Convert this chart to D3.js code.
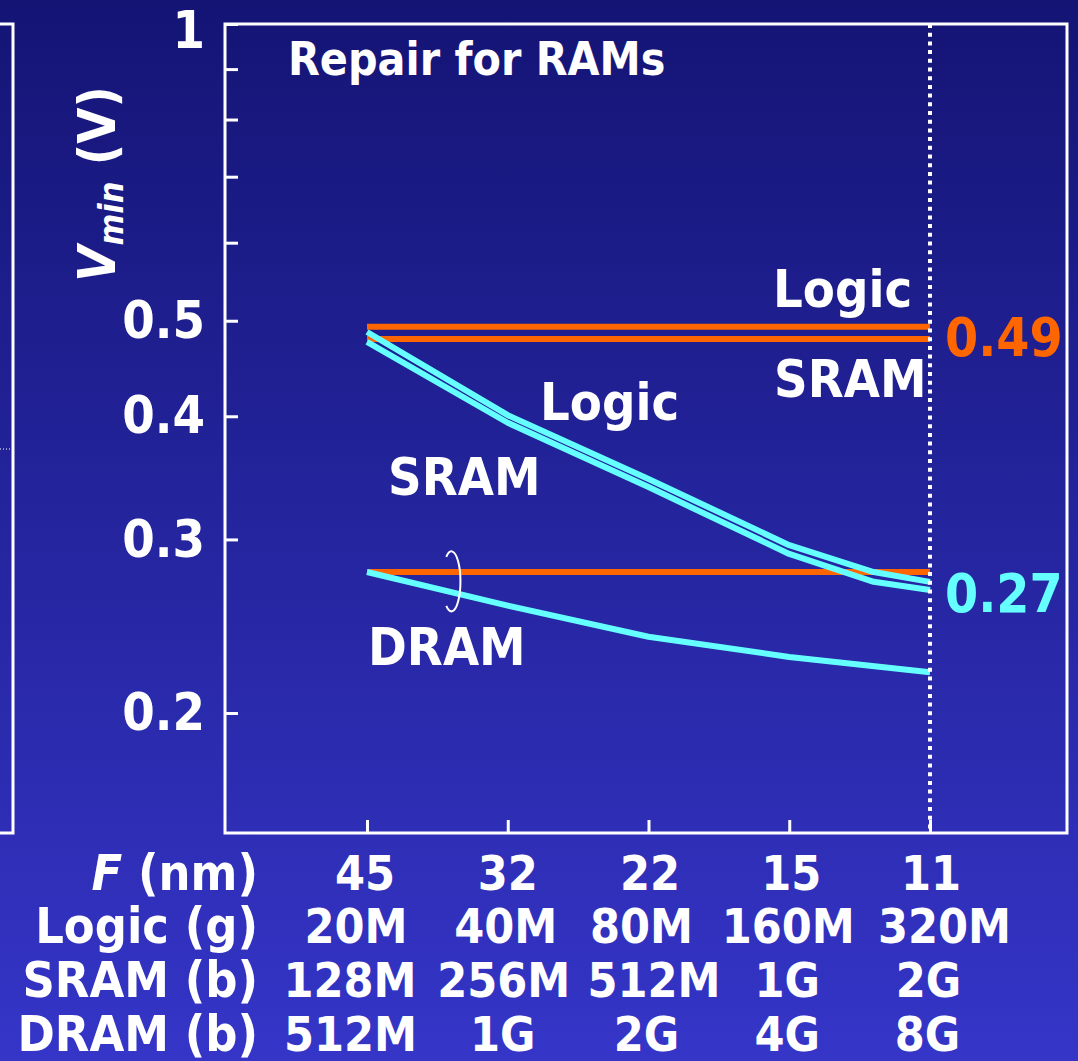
<!DOCTYPE html>
<html>
<head>
<meta charset="utf-8">
<style>
  body { margin: 0; background: #1b1c88; }
  svg text {
    font-family: "DejaVu Sans", Verdana, sans-serif;
    font-weight: bold;
    font-stretch: condensed;
    fill: white;
  }
</style>
</head>
<body>
<svg id="chart"></svg>
<script src="https://d3js.org/d3.v7.min.js"></script>
<script>
var width = 1078, height = 1061;

// table under the chart
var featureNm  = ["45", "32", "22", "15", "11"];
var logicGates = ["20M", "40M", "80M", "160M", "320M"];
var sramBits   = ["128M", "256M", "512M", "1G", "2G"];
var dramBits   = ["512M", "1G", "2G", "4G", "8G"];

// y axis ticks (log)
var majorTicks = [0.2, 0.3, 0.4, 0.5, 1];
var minorTicks = [0.6, 0.7, 0.8, 0.9];

// position along the F axis (0 = 45nm ... 4 = 11nm)
var curveX = [0, 1, 2, 3, 3.6, 4];
var dramX  = [0, 1, 2, 3, 4];

// Vmin, repair for RAMs (cyan)
var logicRepair = [0.487, 0.401, 0.3455, 0.296, 0.278, 0.2717];
var sramRepair  = [0.476, 0.394, 0.339, 0.290, 0.2717, 0.2666];
var dramRepair  = [0.278, 0.257, 0.239, 0.228, 0.220];

// Vmin without repair (orange, flat)
var logicFlat = [0.493, 0.493, 0.493, 0.493, 0.493];
var sramFlat  = [0.479, 0.479, 0.479, 0.479, 0.479];
var dramFlat  = [0.278, 0.278, 0.278, 0.278, 0.278];

var orange = "#ff6600", cyan = "#66ffff";

var x = d3.scaleLinear().domain([0, 4]).range([367, 930]);
var y = d3.scaleLog().domain([0.2, 1]).range([713, 24]);

var frame = {left: 225, top: 24, right: 1067, bottom: 833};

var svg = d3.select("#chart").attr("width", width).attr("height", height);

// background gradient
var grad = svg.append("defs").append("linearGradient")
  .attr("id", "bg").attr("x1", 0).attr("y1", 0).attr("x2", 0).attr("y2", 1);
grad.append("stop").attr("offset", "0%").attr("stop-color", "#141475");
grad.append("stop").attr("offset", "100%").attr("stop-color", "#3535c8");
svg.append("rect").attr("width", width).attr("height", height).attr("fill", "url(#bg)");

// piece of the neighbouring panel on the left
svg.append("path")
  .attr("d", "M0," + frame.top + "H13V" + frame.bottom + "H0")
  .attr("fill", "none").attr("stroke", "white").attr("stroke-width", 3);
svg.append("line")
  .attr("x1", 0).attr("x2", 11).attr("y1", 449).attr("y2", 449)
  .attr("stroke", "white").attr("stroke-width", 1).attr("stroke-dasharray", "1,2");

// frame
svg.append("rect")
  .attr("x", frame.left).attr("y", frame.top)
  .attr("width", frame.right - frame.left).attr("height", frame.bottom - frame.top)
  .attr("fill", "none").attr("stroke", "white").attr("stroke-width", 3);

// y axis
var yAxis = svg.append("g")
  .attr("transform", "translate(" + frame.left + ",0)")
  .call(d3.axisLeft(y)
    .tickValues(majorTicks.concat(minorTicks))
    .tickSizeInner(-13).tickSizeOuter(0).tickPadding(20)
    .tickFormat(function(d) { return majorTicks.indexOf(d) >= 0 ? d3.format("")(d) : ""; }));
yAxis.select(".domain").remove();
yAxis.selectAll("line").attr("stroke", "white").attr("stroke-width", 3);
yAxis.selectAll("text").attr("font-size", 52).attr("fill", "white")
  .attr("font-family", null);
yAxis.selectAll(".tick").filter(function(d) { return d === 1; })
  .select("text").attr("dy", "0.45em");

// x axis ticks
var xAxis = svg.append("g")
  .attr("transform", "translate(0," + frame.bottom + ")")
  .call(d3.axisBottom(x).tickValues([0, 1, 2, 3, 4])
    .tickSizeInner(-13).tickSizeOuter(0).tickFormat(""));
xAxis.select(".domain").remove();
xAxis.selectAll("line").attr("stroke", "white").attr("stroke-width", 3);

// y title
var yTitle = svg.append("text")
  .attr("transform", "translate(115,184) rotate(-90)")
  .attr("text-anchor", "middle")
  .attr("font-size", 52);
yTitle.append("tspan").attr("font-style", "italic").text("V");
yTitle.append("tspan").attr("font-style", "italic").attr("font-size", 34)
  .attr("dy", 8).text("min");
yTitle.append("tspan").attr("dy", -8).text(" (V)");

var line = d3.line()
  .x(function(d) { return x(d[0]); })
  .y(function(d) { return y(d[1]); });

function pairs(xs, vs) { return xs.map(function(v, i) { return [v, vs[i]]; }); }

// flat orange lines
[logicFlat, sramFlat, dramFlat].forEach(function(s) {
  svg.append("path").datum(pairs(dramX, s))
    .attr("d", line).attr("fill", "none")
    .attr("stroke", orange).attr("stroke-width", 6);
});

// cyan repair curves
[[curveX, sramRepair], [curveX, logicRepair], [dramX, dramRepair]].forEach(function(s) {
  svg.append("path").datum(pairs(s[0], s[1]))
    .attr("d", line).attr("fill", "none")
    .attr("stroke", cyan).attr("stroke-width", 6)
    .attr("stroke-linejoin", "round");
});

// DRAM bracket ellipse
var ex = x(0.6), ey = y(0.272), rx = 9, ry = 30;
var a0 = -125 * Math.PI / 180, a1 = 125 * Math.PI / 180;
svg.append("path")
  .attr("d", "M" + (ex + rx * Math.cos(a0)) + "," + (ey + ry * Math.sin(a0)) +
    "A" + rx + "," + ry + " 0 1 1 " + (ex + rx * Math.cos(a1)) + "," + (ey + ry * Math.sin(a1)))
  .attr("fill", "none").attr("stroke", "white").attr("stroke-width", 2);

// dotted line at 11nm
svg.append("line")
  .attr("x1", x(4)).attr("x2", x(4)).attr("y1", frame.top).attr("y2", frame.bottom)
  .attr("stroke", "white").attr("stroke-width", 4).attr("stroke-dasharray", "4,4.7");

// labels in the plot
var labels = [
  {t: "Repair for RAMs", x: 288, y: 75, size: 46, c: "white"},
  {t: "Logic", x: 773, y: 307, size: 52, c: "white"},
  {t: "SRAM", x: 774, y: 397, size: 52, c: "white"},
  {t: "Logic", x: 540, y: 420, size: 52, c: "white"},
  {t: "SRAM", x: 388, y: 495, size: 52, c: "white"},
  {t: "DRAM", x: 368, y: 665, size: 52, c: "white"},
  {t: "0.49", x: 945, y: 356, size: 53, c: orange},
  {t: "0.27", x: 945, y: 612, size: 53, c: cyan}
];
svg.selectAll("text.lbl").data(labels).enter().append("text")
  .attr("class", "lbl")
  .attr("x", function(d) { return d.x; })
  .attr("y", function(d) { return d.y; })
  .attr("font-size", function(d) { return d.size; })
  .style("fill", function(d) { return d.c; })
  .text(function(d) { return d.t; });

// table below: the slide's columns are typed by hand, so each cell sits a bit off its tick
var rows = [
  {label: "(nm)", vals: featureNm, y: 890, nudge: [-2, 0, 1.5, 2, 1]},
  {label: "Logic (g)", vals: logicGates, y: 943, nudge: [-11, -2, -7, -1, 14.5]},
  {label: "SRAM (b)", vals: sramBits, y: 997, nudge: [-17, -4, 5.5, -2, -1.5]},
  {label: "DRAM (b)", vals: dramBits, y: 1051, nudge: [-16.5, -5, -2, -2, -2.5]}
];
rows.forEach(function(r, k) {
  var lab = svg.append("text").attr("x", 258).attr("y", r.y)
    .attr("text-anchor", "end").attr("font-size", 50);
  if (k === 0) lab.append("tspan").attr("font-style", "italic").text("F ");
  lab.append("tspan").text(r.label);
  svg.selectAll(null).data(r.vals).enter().append("text")
    .attr("x", function(d, i) { return x(i) + r.nudge[i]; })
    .attr("y", r.y)
    .attr("text-anchor", "middle")
    .attr("font-size", 48)
    .text(function(d) { return d; });
});
</script>
</body>
</html>
